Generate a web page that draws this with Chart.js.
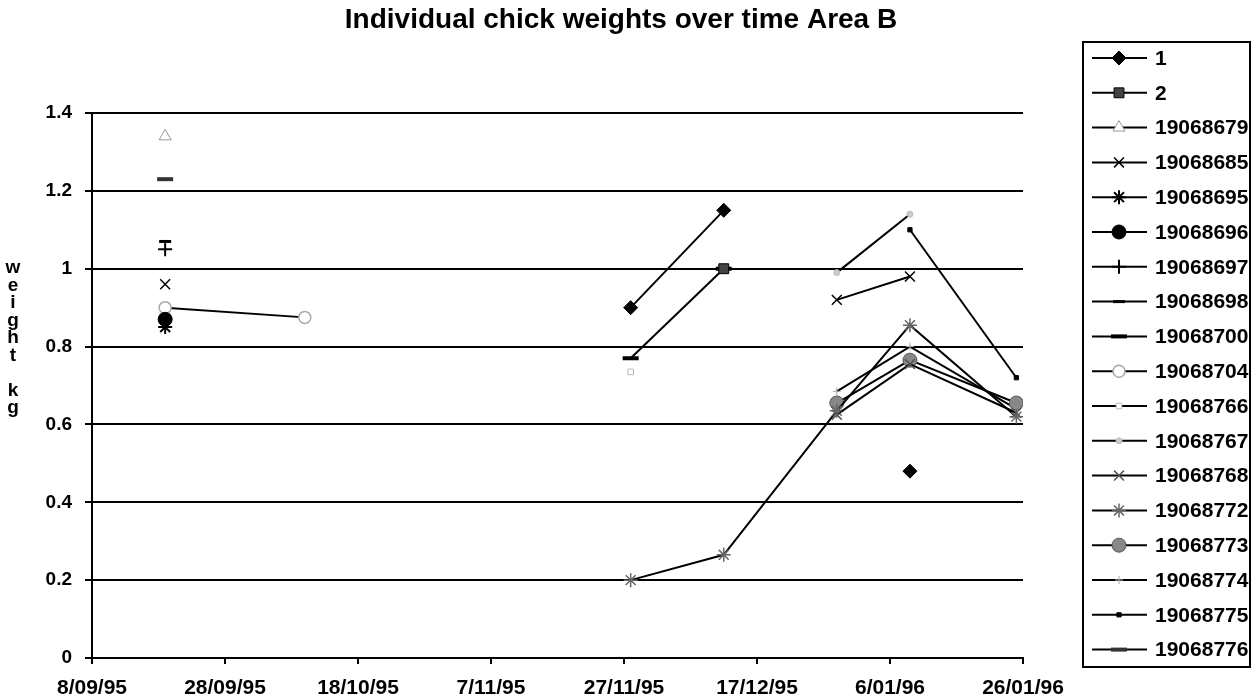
<!DOCTYPE html>
<html>
<head>
<meta charset="utf-8">
<title>Individual chick weights over time Area B</title>
<script src="https://cdn.jsdelivr.net/npm/chart.js@4.4.1/dist/chart.umd.min.js"></script>
<style>
    body { margin: 0; background: #fff; }
    #wrap { width: 1252px; height: 698px; }
</style>
</head>
<body>
<div id="wrap"><canvas id="weight-chart" width="1252" height="698"></canvas></div>
<script>
// weighing dates (d/mm/yy)
const weighDates = ['19/09/95', '10/10/95', '28/11/95', '12/12/95', '29/12/95', '9/01/96', '25/01/96'];

// weight (kg) per chick, one value per weighing date, null = not weighed
const chick1 = [null, null, 0.90, 1.15, null, 0.48, null];
const chick2 = [null, null, null, 1.00, null, null, null];
const chick19068679 = [1.34, null, null, null, null, null, null];
const chick19068685 = [0.96, null, null, null, 0.92, 0.98, null];
const chick19068695 = [0.85, null, null, null, null, null, null];
const chick19068696 = [0.87, null, null, null, null, null, null];
const chick19068697 = [1.05, null, null, null, null, null, null];
const chick19068698 = [1.07, null, null, null, null, null, null];
const chick19068700 = [null, null, 0.77, 1.00, null, null, null];
const chick19068704 = [0.90, 0.875, null, null, null, null, null];
const chick19068766 = [null, null, 0.735, null, null, null, null];
const chick19068767 = [null, null, null, null, 0.99, 1.14, null];
const chick19068768 = [null, null, null, null, 0.625, 0.755, 0.63];
const chick19068772 = [null, null, 0.20, 0.265, 0.635, 0.855, 0.62];
const chick19068773 = [null, null, null, null, 0.655, 0.765, 0.655];
const chick19068774 = [null, null, null, null, 0.685, 0.80, 0.64];
const chick19068775 = [null, null, null, null, null, 1.10, 0.72];
const chick19068776 = [1.23, null, null, null, null, null, null];

const chickNames = ['1', '2', '19068679', '19068685', '19068695', '19068696', '19068697', '19068698',
    '19068700', '19068704', '19068766', '19068767', '19068768', '19068772', '19068773', '19068774',
    '19068775', '19068776'];
const chickWeights = [chick1, chick2, chick19068679, chick19068685, chick19068695, chick19068696,
    chick19068697, chick19068698, chick19068700, chick19068704, chick19068766, chick19068767,
    chick19068768, chick19068772, chick19068773, chick19068774, chick19068775, chick19068776];

// axis ticks: days from 8/09/95, every 20 days
const xTickStart = '8/09/95';
const xTickEnd = '26/01/96';
const xTickStep = 20;
const yTicks = [0, 0.2, 0.4, 0.6, 0.8, 1, 1.2, 1.4];

const chartTitle = 'Individual chick weights over time Area B';
const yTitleLetters = ['w', 'e', 'i', 'g', 'h', 't', '', 'k', 'g'];

// marker look for each chick (same order as chickNames)
const markerStyles = [
    { style: 'rectRot', r: 7, fill: '#000', stroke: '#000', bw: 1 },
    { style: 'rect', r: 7, fill: '#444', stroke: '#000', bw: 1 },
    { style: 'triangle', r: 7, fill: '#fff', stroke: '#999', bw: 1 },
    { style: 'crossRot', r: 7, fill: '#000', stroke: '#000', bw: 1.5 },
    { style: 'star', r: 7, fill: '#000', stroke: '#000', bw: 2 },
    { style: 'circle', r: 7, fill: '#000', stroke: '#000', bw: 1 },
    { style: 'cross', r: 7, fill: '#000', stroke: '#000', bw: 2 },
    { style: 'line', r: 6, fill: '#000', stroke: '#000', bw: 3 },
    { style: 'line', r: 8, fill: '#000', stroke: '#000', bw: 4 },
    { style: 'circle', r: 6, fill: '#fff', stroke: '#aaa', bw: 1.5 },
    { style: 'rect', r: 4, fill: '#fff', stroke: '#bbb', bw: 1 },
    { style: 'circle', r: 3, fill: '#ccc', stroke: '#bbb', bw: 1 },
    { style: 'crossRot', r: 7, fill: '#555', stroke: '#555', bw: 1.5 },
    { style: 'star', r: 7, fill: '#666', stroke: '#666', bw: 1.5 },
    { style: 'circle', r: 7, fill: '#888', stroke: '#555', bw: 1 },
    { style: 'cross', r: 4, fill: '#aaa', stroke: '#aaa', bw: 1 },
    { style: 'rect', r: 3, fill: '#000', stroke: '#000', bw: 1 },
    { style: 'line', r: 8, fill: '#333', stroke: '#333', bw: 4 }
];

const FONT = '"Liberation Sans", Arial, sans-serif';
const DAY = 24 * 3600 * 1000;

function parseDate(text) {
    const parts = text.split('/').map(Number);
    return Date.UTC(1900 + (parts[2] < 50 ? 100 : 0) + parts[2], parts[1] - 1, parts[0]);
}

const baseTime = parseDate(xTickStart);

function toDay(text) {
    return Math.round((parseDate(text) - baseTime) / DAY);
}

function dayLabel(day) {
    const d = new Date(baseTime + day * DAY);
    const month = String(d.getUTCMonth() + 1).padStart(2, '0');
    return `${d.getUTCDate()}/${month}/${String(d.getUTCFullYear()).slice(2)}`;
}

const weighDays = weighDates.map(toDay);

const datasets = chickNames.map((name, i) => {
    const m = markerStyles[i];
    return {
        label: name,
        data: chickWeights[i].map((w, j) => ({ x: weighDays[j], y: w })),
        borderColor: '#000',
        borderWidth: 2,
        pointStyle: m.style,
        pointRadius: m.r,
        pointBackgroundColor: m.fill,
        pointBorderColor: m.stroke,
        pointBorderWidth: m.bw,
        spanGaps: false,
        tension: 0
    };
});

// title, boxed legend and stacked axis title, like the spreadsheet chart
const sheetDecor = {
    id: 'sheetDecor',
    afterDraw(chart) {
        const ctx = chart.ctx;
        const left = 1083, top = 42, right = 1250, bottom = 667;
        const rowTop = 58, rowGap = 34.8;
        ctx.save();

        ctx.fillStyle = '#000';
        ctx.font = `bold 28px ${FONT}`;
        ctx.textAlign = 'center';
        ctx.textBaseline = 'middle';
        ctx.fillText(chartTitle, 621, 20);

        ctx.strokeStyle = '#000';
        ctx.lineWidth = 2;
        ctx.strokeRect(left, top, right - left, bottom - top);

        ctx.font = `bold 21px ${FONT}`;
        ctx.textAlign = 'left';
        chart.data.datasets.forEach((ds, i) => {
            const y = rowTop + i * rowGap;
            ctx.strokeStyle = '#000';
            ctx.lineWidth = 2;
            ctx.beginPath();
            ctx.moveTo(1092, y);
            ctx.lineTo(1147, y);
            ctx.stroke();
            ctx.fillStyle = ds.pointBackgroundColor;
            ctx.strokeStyle = ds.pointBorderColor;
            ctx.lineWidth = ds.pointBorderWidth;
            Chart.helpers.drawPoint(ctx, {
                pointStyle: ds.pointStyle,
                radius: ds.pointRadius,
                borderWidth: ds.pointBorderWidth,
                rotation: 0
            }, 1119, y);
            ctx.fillStyle = '#000';
            ctx.fillText(ds.label, 1155, y + 1);
        });

        ctx.font = `bold 19px ${FONT}`;
        ctx.textAlign = 'center';
        yTitleLetters.forEach((ch, i) => {
            ctx.fillText(ch, 13, 268 + i * 17.5);
        });
        ctx.restore();
    }
};

const ctx = document.getElementById('weight-chart').getContext('2d');
new Chart(ctx, {
    type: 'line',
    data: { datasets: datasets },
    options: {
        responsive: false,
        animation: false,
        devicePixelRatio: 1,
        layout: { padding: { top: 113, right: 229, bottom: 0, left: 0 } },
        plugins: {
            legend: { display: false },
            tooltip: { enabled: false },
            title: { display: false }
        },
        scales: {
            x: {
                type: 'linear',
                min: 0,
                max: toDay(xTickEnd),
                afterFit: (scale) => { scale.height = 40; },
                ticks: {
                    stepSize: xTickStep,
                    autoSkip: false,
                    maxRotation: 0,
                    padding: 12,
                    color: '#000',
                    font: { family: FONT, size: 21, weight: 'bold' },
                    callback: (value) => dayLabel(value)
                },
                grid: {
                    drawOnChartArea: false,
                    drawTicks: true,
                    tickLength: 6,
                    color: '#000',
                    lineWidth: 2
                },
                border: { display: true, color: '#000', width: 2 }
            },
            y: {
                min: yTicks[0],
                max: yTicks[yTicks.length - 1],
                afterFit: (scale) => { scale.width = 92; },
                afterBuildTicks: (scale) => { scale.ticks = yTicks.map(v => ({ value: v })); },
                ticks: {
                    padding: 13,
                    color: '#000',
                    font: { family: FONT, size: 19, weight: 'bold' },
                    callback: (value) => String(+value.toFixed(1))
                },
                grid: {
                    color: '#000',
                    lineWidth: 2,
                    tickLength: 7
                },
                border: { display: true, color: '#000', width: 2 }
            }
        }
    },
    plugins: [sheetDecor]
});
</script>
</body>
</html>
